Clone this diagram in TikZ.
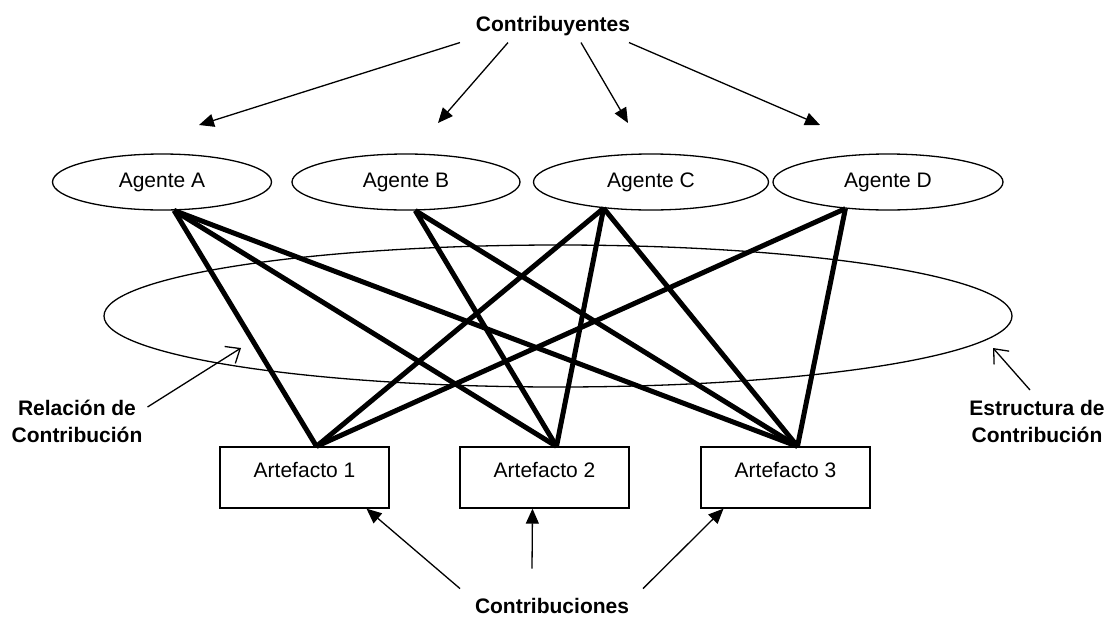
\documentclass[tikz,border=0pt]{standalone}
\usepackage{fontspec}
\setmainfont{Liberation Sans}
\usetikzlibrary{shapes.geometric,arrows.meta}
\begin{document}
\begin{tikzpicture}[x=1pt,y=-1pt,
    font=\fontsize{21}{27}\selectfont,
    agente/.style={ellipse,draw,line width=1.3pt,minimum height=56pt,inner sep=0pt},
    artefacto/.style={rectangle,draw,line width=1.3pt,minimum width=169pt,minimum height=61pt,
        text height=15pt,text depth=15pt,inner sep=0pt},
    etiqueta/.style={font=\fontsize{21}{27}\selectfont\bfseries,inner sep=0pt,align=center},
    enlace/.style={line width=5pt},
    flecha/.style={line width=1.3pt,-{Triangle[length=15pt,width=13pt]}},
    senal/.style={line width=1.3pt,-{Straight Barb[length=12pt,width=20pt]}}]
    \useasboundingbox (0,0) rectangle (1106,619);
    % estructura
    \node[ellipse,draw,line width=1.3pt,minimum width=908pt,minimum height=142pt] (E) at (558,316) {};
    % agentes
    \node[agente,minimum width=219pt] (A) at (162,182) {Agente A};
    \node[agente,minimum width=228pt] (B) at (406,182) {Agente B};
    \node[agente,minimum width=235pt] (C) at (651,182) {Agente C};
    \node[agente,minimum width=230pt] (D) at (888,182) {Agente D};
    % artefactos
    \node[artefacto] (art1) at (304.5,477.5) {Artefacto 1};
    \node[artefacto] (art2) at (544.5,477.5) {Artefacto 2};
    \node[artefacto] (art3) at (785.5,477.5) {Artefacto 3};
    % relaciones
    \draw[enlace] (A.293) -- ([xshift=12pt]art1.north);
    \draw[enlace] (A.293) -- ([xshift=12pt]art2.north);
    \draw[enlace] (A.293) -- ([xshift=12pt]art3.north);
    \draw[enlace] (B.288) -- ([xshift=12pt]art2.north);
    \draw[enlace] (B.288) -- ([xshift=12pt]art3.north);
    \draw[enlace] (C.209) -- ([xshift=12pt]art1.north);
    \draw[enlace] (C.209) -- ([xshift=12pt]art2.north);
    \draw[enlace] (C.209) -- ([xshift=12pt]art3.north);
    \draw[enlace] (D.212) -- ([xshift=12pt]art1.north);
    \draw[enlace] (D.212) -- ([xshift=12pt]art3.north);
    % contribuyentes
    \node[etiqueta,anchor=base] (contribuyentes) at (553,31) {Contribuyentes};
    \coordinate (pA) at (199,125);
    \coordinate (pB) at (438,123);
    \coordinate (pC) at (628,123);
    \coordinate (pD) at (820,125);
    \draw[flecha] ([xshift=-93pt,yshift=-7pt]contribuyentes.south) -- (pA);
    \draw[flecha] ([xshift=-45pt,yshift=-7pt]contribuyentes.south) -- (pB);
    \draw[flecha] ([xshift=28pt,yshift=-7pt]contribuyentes.south) -- (pC);
    \draw[flecha] ([xshift=76pt,yshift=-7pt]contribuyentes.south) -- (pD);
    % contribuciones
    \node[etiqueta,anchor=base] (contribuciones) at (552,613) {Contribuciones};
    \draw[flecha] ([xshift=-92pt,yshift=9pt]contribuciones.north) -- ([xshift=62pt]art1.south);
    \draw[flecha] ([xshift=-20pt,yshift=29pt]contribuciones.north) -- ([xshift=-12pt]art2.south);
    \draw[flecha] ([xshift=91pt,yshift=9pt]contribuciones.north) -- ([xshift=-62pt]art3.south);
    % etiquetas laterales
    \node[etiqueta,anchor=north] (rel) at (77,400) {Relación de\\Contribución};
    \node[etiqueta,anchor=north] (est) at (1037,400) {Estructura de\\Contribución};
    \coordinate (pRel) at (241,348);
    \coordinate (pEst) at (993,348);
    \draw[senal] ([xshift=5pt,yshift=-7pt]rel.north east) -- (pRel);
    \draw[senal] ([xshift=-7pt,yshift=10pt]est.north) -- (pEst);
\end{tikzpicture}
\end{document}
